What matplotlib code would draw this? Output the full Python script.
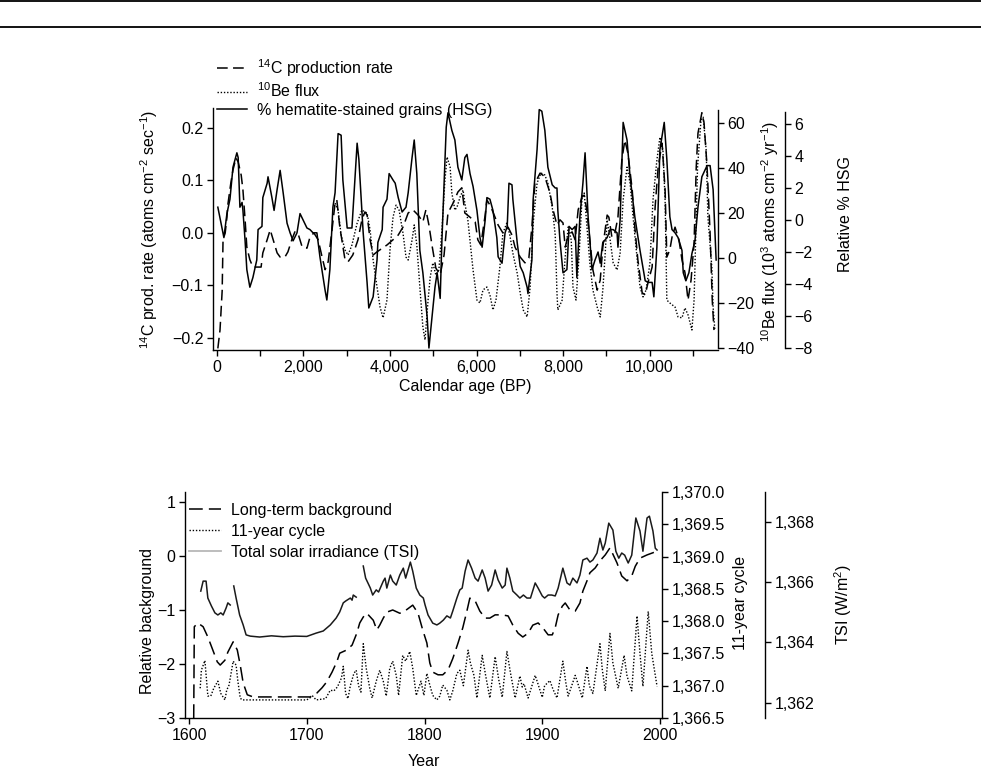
import numpy as np
import matplotlib
matplotlib.use("Agg")
import matplotlib.pyplot as plt
from matplotlib.lines import Line2D
from matplotlib.ticker import FixedLocator, FuncFormatter

# ---------------- Top panel data (Calendar age BP) ----------------
c14_age = [20, 70, 120, 140, 190, 230, 250, 320, 370, 440,
           490, 560, 600, 650, 690, 760, 830, 930, 1020, 1060,
           1160, 1230, 1300, 1390, 1460, 1570, 1640, 1730, 1800, 1870,
           1970, 2080, 2150, 2240, 2340, 2430, 2500, 2570, 2660, 2730,
           2770, 2840, 2960, 3030, 3140, 3260, 3350, 3420, 3470, 3540,
           3610, 3700, 3770, 3930, 4070, 4190, 4300, 4420, 4530, 4650,
           4760, 4830, 4900, 4970, 5060, 5160, 5250, 5340, 5460, 5570,
           5660, 5730, 5850, 5970, 6030, 6100, 6200, 6240, 6310, 6380,
           6500, 6610, 6730, 6820, 6890, 7010, 7120, 7210, 7280, 7350,
           7470, 7580, 7700, 7770, 7860, 7930, 8000, 8050, 8120, 8210,
           8280, 8350, 8440, 8490, 8550, 8620, 8690, 8790, 8860, 8920,
           9020, 9060, 9130, 9200, 9270, 9360, 9430, 9500, 9600, 9660,
           9730, 9830, 9900, 9970, 10060, 10130, 10200, 10290, 10360, 10400,
           10470, 10520, 10590, 10680, 10750, 10820, 10890, 10960, 11030, 11080,
           11120, 11210, 11260, 11330, 11400, 11450, 11490]
c14_val = [-0.22, -0.185, -0.11, -0.013, 0.0, 0.03, 0.053, 0.095, 0.12, 0.143,
           0.135, 0.11, 0.082, 0.025, -0.027, -0.051, -0.065, -0.065, -0.065, -0.038,
           -0.013, 0.006, -0.013, -0.038, -0.046, -0.046, -0.036, -0.013, 0.002, 0.0,
           -0.027, -0.029, -0.008, 0.0, -0.013, -0.046, -0.07, -0.055, 0.006, 0.057,
           0.063, 0.011, -0.051, -0.055, -0.042, -0.013, 0.025, 0.04, 0.034, -0.013,
           -0.042, -0.036, -0.032, -0.023, -0.013, -0.004, 0.011, 0.038, 0.044, 0.034,
           0.021, 0.044, 0.015, -0.023, -0.067, -0.08, -0.042, 0.038, 0.057, 0.078,
           0.086, 0.038, 0.03, 0.021, -0.013, -0.023, 0.034, 0.063, 0.053, 0.04,
           0.015, 0.0, 0.011, -0.004, -0.027, -0.046, -0.057, -0.048, 0.011, 0.095,
           0.114, 0.107, 0.076, 0.044, 0.015, 0.025, 0.019, -0.027, -0.004, 0.002,
           -0.013, 0.044, 0.069, 0.072, 0.044, -0.013, -0.07, -0.109, -0.09, -0.027,
           0.034, 0.03, -0.008, 0.0, 0.03, 0.139, 0.177, 0.152, 0.082, 0.011,
           -0.051, -0.114, -0.118, -0.093, -0.065, 0.05, 0.126, 0.171, 0.082, -0.046,
           -0.032, -0.008, 0.011, -0.013, -0.051, -0.076, -0.128, -0.09, -0.019, 0.126,
           0.19, 0.229, 0.21, 0.126, 0.0, -0.128, -0.185]

be_age = [2730, 2800, 2870, 2960, 3030, 3120, 3240, 3350, 3470, 3540,
          3610, 3700, 3770, 3840, 3930, 4000, 4070, 4140, 4210, 4300,
          4370, 4420, 4510, 4560, 4620, 4690, 4760, 4810, 4880, 4930,
          4990, 5060, 5130, 5200, 5270, 5320, 5390, 5430, 5500, 5550,
          5620, 5690, 5730, 5800, 5920, 6010, 6080, 6150, 6240, 6310,
          6380, 6450, 6540, 6610, 6700, 6770, 6840, 6940, 7010, 7080,
          7170, 7240, 7310, 7400, 7490, 7580, 7650, 7750, 7820, 7860,
          7880, 7980, 8050, 8120, 8190, 8230, 8300, 8370, 8440, 8490,
          8550, 8620, 8690, 8790, 8860, 8920, 8970, 9020, 9090, 9160,
          9250, 9320, 9390, 9480, 9550, 9620, 9710, 9780, 9850, 9920,
          10010, 10080, 10170, 10240, 10310, 10360, 10400, 10470, 10590, 10660,
          10750, 10820, 10890, 10980, 11030, 11070, 11110, 11190, 11240, 11310,
          11350, 11440, 11470, 11510]
be_val = [24.4, 21.3, 10.2, 3.6, 1.3, 5.8, 15.5, 21.3, 20.0, 12.4,
          -0.9, -12.9, -21.8, -26.6, -18.7, 3.6, 18.2, 23.5, 21.3, 11.1,
          0.4, -0.9, 8.0, 14.7, 5.8, -12.9, -30.7, -36.4, -18.7, -8.4,
          -2.2, -7.5, -5.3, 12.4, 34.7, 44.9, 40.4, 28.9, 21.3, 22.7,
          27.1, 30.2, 24.4, 16.9, -5.3, -18.7, -20.0, -14.2, -12.9, -16.4,
          -23.1, -18.7, -4.0, 11.1, 15.5, 10.2, 2.2, -6.7, -15.5, -23.1,
          -26.2, -12.9, 15.5, 33.3, 37.8, 36.9, 33.3, 22.7, 10.2, -15.5,
          -23.1, -18.7, 0.4, 13.8, 8.0, -12.9, -18.7, 0.4, 27.1, 28.9,
          14.7, -2.2, -14.2, -21.8, -26.2, -14.2, 0.4, 16.9, 8.0, -2.2,
          -5.3, 2.2, 25.8, 40.4, 33.3, 18.2, 0.4, -12.9, -17.3, -14.2,
          -2.2, 25.8, 43.5, 53.7, 48.0, 25.8, -18.7, -20.0, -21.8, -26.2,
          -26.6, -22.2, -25.3, -32.0, -18.7, 11.1, 40.4, 61.3, 62.6, 48.0,
          18.2, -4.0, -21.8, -32.0]

hsg_age = [20, 160, 230, 300, 370, 460, 490, 530, 580, 600,
           650, 690, 760, 830, 920, 950, 1040, 1060, 1160, 1180,
           1270, 1320, 1390, 1460, 1530, 1620, 1690, 1760, 1850, 1920,
           1990, 2080, 2150, 2220, 2310, 2380, 2500, 2540, 2610, 2680,
           2730, 2800, 2870, 2910, 3010, 3120, 3240, 3280, 3380, 3470,
           3510, 3610, 3700, 3720, 3820, 3840, 3930, 3980, 4070, 4120,
           4190, 4280, 4370, 4420, 4510, 4560, 4620, 4690, 4760, 4860,
           4900, 4970, 5040, 5090, 5130, 5160, 5200, 5250, 5300, 5340,
           5430, 5500, 5570, 5660, 5730, 5780, 5850, 5920, 6010, 6080,
           6130, 6200, 6240, 6310, 6380, 6470, 6500, 6590, 6660, 6710,
           6750, 6820, 6840, 6940, 7010, 7080, 7170, 7190, 7280, 7310,
           7400, 7450, 7510, 7580, 7650, 7750, 7820, 7860, 7880, 7930,
           8000, 8090, 8140, 8210, 8280, 8320, 8390, 8460, 8510, 8580,
           8670, 8740, 8810, 8860, 8920, 9020, 9090, 9160, 9250, 9270,
           9320, 9390, 9480, 9550, 9660, 9780, 9900, 9970, 10060, 10100,
           10170, 10240, 10340, 10400, 10470, 10520, 10590, 10660, 10750, 10780,
           10840, 10910, 10980, 11050, 11120, 11210, 11330, 11400, 11470, 11540]
hsg_val = [0.8, -1.1, 0.4, 1.3, 3.3, 4.2, 3.9, 0.8, 1.1, 0.6,
           -1.3, -3.1, -4.2, -3.6, -2.5, -0.6, -0.4, 1.4, 2.3, 2.7,
           1.4, 0.6, 1.9, 3.1, 1.7, -0.2, -0.8, -1.3, -0.8, 0.4,
           0.0, -0.5, -0.6, -0.8, -0.8, -2.3, -4.4, -5.0, -3.1, 0.8,
           1.7, 5.4, 5.3, 2.5, -0.5, -0.5, 4.8, 3.8, -0.8, -3.9,
           -5.5, -4.8, -2.5, -1.4, -0.6, 0.8, 1.3, 2.9, 2.5, 2.3,
           1.4, 0.5, 0.8, 1.7, 3.9, 5.0, 2.9, -1.9, -3.3, -6.1,
           -8.0, -6.1, -4.2, -3.3, -4.2, -4.9, -1.3, 2.3, 5.8, 6.7,
           5.6, 5.0, 3.3, 2.5, 3.9, 4.1, 2.9, 2.1, 0.6, -1.1,
           -1.7, 0.0, 1.4, 1.3, 0.6, -1.1, -2.3, -2.7, -0.8, -0.4,
           2.3, 2.2, 1.3, -1.4, -2.9, -3.3, -4.2, -4.6, -2.5, 1.3,
           4.4, 6.9, 6.8, 5.6, 3.3, 2.2, 2.0, 2.0, 0.6, -1.3,
           -3.3, -3.1, -0.4, -0.6, -0.4, -3.6, 0.2, 2.3, 4.2, 0.2,
           -3.1, -2.5, -2.0, -2.7, -1.4, -1.1, -0.6, -0.6, -0.8, -1.7,
           0.0, 6.1, 5.0, 2.7, 0.2, -1.9, -3.8, -3.9, -3.9, -4.8,
           -1.7, 4.4, 6.1, 3.8, 0.2, -0.6, -0.8, -1.1, -1.9, -3.3,
           -3.8, -3.3, -2.1, -1.3, 0.8, 2.7, 3.4, 3.4, 1.9, -2.5]

top_xticks = [0, 2000, 4000, 6000, 8000, 10000]
c14_ticks = [-0.2, -0.1, 0.0, 0.1, 0.2]
be_ticks = [-40, -20, 0, 20, 40, 60]
hsg_ticks = [-8, -6, -4, -2, 0, 2, 4, 6]

# ---------------- Bottom panel data (Year AD) ----------------
bg_year = [1604, 1604.5, 1607.5, 1612, 1616, 1619.5, 1624, 1626.5, 1630.5, 1633,
           1637.5, 1641, 1643.5, 1646, 1649.5, 1654.5, 1670, 1690, 1703, 1708.5,
           1713, 1717, 1721.5, 1725.5, 1728, 1734, 1738.5, 1742.5, 1745, 1748,
           1751, 1756.5, 1759.5, 1762, 1765, 1768, 1773, 1779, 1782, 1790,
           1794.5, 1798.5, 1802, 1804.5, 1807, 1811.5, 1815.5, 1820, 1824, 1828.5,
           1832.5, 1836, 1838.5, 1843, 1847, 1851.5, 1855.5, 1860, 1866, 1871,
           1875, 1879.5, 1883.5, 1888, 1892, 1896.5, 1900.5, 1905, 1908.5, 1911,
           1913.5, 1917, 1919.5, 1923.5, 1928, 1932, 1934.5, 1938, 1940.5, 1945,
           1949, 1953.5, 1957.5, 1963.5, 1967.5, 1972, 1976, 1979, 1983, 1989,
           1994, 1997.5]
bg_val = [-3.0, -1.31, -1.24, -1.31, -1.50, -1.70, -1.96, -2.02, -1.93, -1.78,
          -1.59, -1.74, -2.02, -2.35, -2.57, -2.61, -2.61, -2.61, -2.61, -2.54,
          -2.44, -2.33, -2.15, -1.96, -1.80, -1.74, -1.65, -1.43, -1.24, -1.13,
          -1.06, -1.19, -1.37, -1.28, -1.15, -1.04, -1.00, -1.06, -1.04, -0.91,
          -1.06, -1.37, -1.61, -1.98, -2.15, -2.20, -2.20, -2.11, -1.90, -1.61,
          -1.33, -1.02, -0.78, -0.83, -1.02, -1.15, -1.15, -1.09, -1.09, -1.11,
          -1.28, -1.43, -1.50, -1.43, -1.28, -1.24, -1.33, -1.46, -1.46, -1.33,
          -1.09, -0.93, -0.87, -1.00, -1.02, -0.87, -0.65, -0.46, -0.31, -0.22,
          -0.09, 0.02, 0.15, -0.13, -0.37, -0.46, -0.37, -0.19, -0.04, 0.02,
          0.06, 0.09]

cyc_year = [1609.5, 1610.5, 1613.5, 1616, 1618.5, 1621, 1624.5, 1627, 1630.5, 1632,
            1634, 1637.5, 1640, 1641.5, 1643.5, 1645, 1670, 1700, 1705, 1708,
            1716, 1720, 1723, 1726, 1729.5, 1731, 1733, 1735, 1737, 1740,
            1742, 1744, 1746, 1748, 1750.5, 1753.5, 1755.5, 1759, 1762, 1765,
            1767.5, 1770.5, 1773, 1776, 1778, 1781.5, 1784, 1787.5, 1790, 1793,
            1797, 1799.5, 1802, 1804.5, 1807, 1810.5, 1813, 1815.5, 1819, 1821.5,
            1824, 1827.5, 1830, 1833, 1837, 1839, 1842, 1844.5, 1849, 1852,
            1855.5, 1860, 1863, 1866, 1870, 1873, 1877, 1881, 1883, 1884.5,
            1888, 1894, 1896, 1900, 1902, 1906.5, 1909, 1912.5, 1917.5, 1920,
            1922, 1928, 1930, 1934, 1938, 1940, 1943, 1949, 1951, 1953.5,
            1957.5, 1960, 1964.5, 1969.5, 1972, 1976, 1980.5, 1983, 1985.5, 1990,
            1993, 1997.5]
cyc_val = [1366.96, 1367.24, 1367.39, 1366.84, 1366.84, 1366.96, 1367.07, 1366.88, 1366.78, 1366.93,
           1367.01, 1367.38, 1367.32, 1367.07, 1366.81, 1366.78, 1366.78, 1366.78, 1366.84, 1366.78,
           1366.80, 1366.93, 1366.92, 1366.98, 1367.12, 1367.30, 1366.88, 1366.80, 1367.00, 1367.19,
           1367.24, 1367.00, 1366.90, 1367.65, 1367.27, 1366.96, 1366.81, 1367.07, 1367.24, 1367.07,
           1366.84, 1367.27, 1367.38, 1367.16, 1366.85, 1367.47, 1367.38, 1367.53, 1367.27, 1366.85,
           1367.07, 1366.85, 1367.19, 1367.01, 1366.85, 1366.78, 1366.84, 1367.01, 1366.93, 1366.78,
           1366.92, 1367.19, 1367.24, 1367.00, 1367.55, 1367.35, 1367.16, 1366.81, 1367.47, 1367.15,
           1366.81, 1367.45, 1367.10, 1366.82, 1367.53, 1367.20, 1366.81, 1367.15, 1366.98, 1367.03,
           1366.81, 1367.16, 1367.05, 1366.82, 1367.00, 1367.08, 1366.95, 1366.81, 1367.38, 1367.05,
           1366.84, 1367.16, 1367.05, 1366.81, 1367.30, 1367.00, 1366.88, 1367.65, 1367.25, 1366.92,
           1367.81, 1367.35, 1366.96, 1367.47, 1367.15, 1366.92, 1368.08, 1367.50, 1366.99, 1368.15,
           1367.50, 1366.99]

tsi_year = [1610, 1612, 1614.5, 1616, 1619, 1622, 1624.5, 1627, 1629, 1631.5,
            1633, 1635, 1636.5, 1638, 1640, 1643, 1646, 1648.5, 1652, 1660,
            1670, 1680, 1690, 1700, 1708, 1714, 1720, 1725, 1728, 1731,
            1733, 1737, 1738.5, 1739.5, 1742, 1745, 1748, 1750, 1754, 1756,
            1759, 1761, 1765, 1766.5, 1768, 1771, 1773, 1776, 1779, 1782,
            1784, 1788, 1790, 1793, 1796, 1799, 1800.5, 1803, 1807, 1810.5,
            1813, 1816, 1819, 1822, 1824, 1827.5, 1830, 1832, 1834.5, 1837,
            1840, 1843, 1845.5, 1849, 1851.5, 1854, 1857, 1860, 1862.5, 1866,
            1868.5, 1870, 1872.5, 1875, 1878.5, 1881, 1884, 1887, 1890, 1894,
            1896.5, 1900, 1902, 1905, 1908, 1911, 1913.5, 1917.5, 1921, 1923.5,
            1926, 1929.5, 1932, 1934.5, 1938, 1940.5, 1943, 1946.5, 1949, 1951.5,
            1953.5, 1956.5, 1960, 1962.5, 1965, 1967.5, 1970, 1973, 1976, 1979.5,
            1983, 1985.5, 1989, 1991, 1994, 1996, 1997.5]
tsi_val = [1365.70, 1366.03, 1366.03, 1365.47, 1365.21, 1364.98, 1364.91, 1364.98, 1364.91, 1365.14,
           1365.31, 1365.24, np.nan, 1365.87, 1365.47, 1364.91, 1364.58, 1364.25, 1364.21, 1364.18,
           1364.22, 1364.19, 1364.21, 1364.20, 1364.31, 1364.38, 1364.58, 1364.81, 1365.01, 1365.31,
           1365.37, 1365.47, 1365.40, 1365.57, 1365.50, np.nan, 1366.53, 1366.13, 1365.80, 1365.57,
           1365.74, 1365.67, 1366.03, 1366.13, 1365.80, 1366.23, 1366.03, 1365.90, 1366.23, 1366.46,
           1366.13, 1366.66, 1366.36, 1365.80, 1365.57, 1365.47, 1365.24, 1364.91, 1364.64, 1364.58,
           1364.64, 1364.74, 1364.88, 1364.81, 1365.04, 1365.47, 1365.74, 1365.80, 1366.36, 1366.73,
           1366.46, 1366.13, 1366.03, 1366.40, 1366.13, 1365.70, 1365.90, 1366.40, 1366.07, 1365.80,
           1365.90, 1366.46, 1366.13, 1365.70, 1365.57, 1365.47, 1365.57, 1365.47, 1365.47, 1365.97,
           1365.80, 1365.54, 1365.47, 1365.57, 1365.57, 1365.54, 1365.80, 1366.46, 1365.97, 1365.90,
           1366.13, 1365.97, 1366.23, 1366.73, 1366.79, 1366.66, 1366.73, 1366.96, 1367.45, 1367.06,
           1367.29, 1367.95, 1367.72, 1367.02, 1366.79, 1366.96, 1366.89, 1366.63, 1366.89, 1368.12,
           1367.69, 1367.02, 1368.12, 1368.18, 1367.69, 1367.12, 1367.06]

bot_xticks = [1600, 1700, 1800, 1900, 2000]
bg_ticks = [-3, -2, -1, 0, 1]
cyc_ticks = [1366.5, 1367.0, 1367.5, 1368.0, 1368.5, 1369.0, 1369.5, 1370.0]
tsi_ticks = [1362, 1364, 1366, 1368]

# ---------------- Styling ----------------
FS = 11.5
plt.rcParams['font.family'] = ['Liberation Sans', 'DejaVu Sans']
plt.rcParams['mathtext.fontset'] = 'custom'
plt.rcParams['mathtext.rm'] = 'Liberation Sans'
plt.rcParams['mathtext.it'] = 'Liberation Sans:italic'
plt.rcParams['mathtext.bf'] = 'Liberation Sans:bold'
plt.rcParams['font.size'] = FS
plt.rcParams['axes.linewidth'] = 1.0

W, H = 981, 772
fig = plt.figure(figsize=(W / 100, H / 100), dpi=100)

for yy in (0.8, 27):
    fig.add_artist(Line2D([0, 1], [1 - yy / H] * 2, color='black', lw=1.3,
                          transform=fig.transFigure))


def mfmt(fmt):
    return FuncFormatter(lambda v, p: fmt.format(v).replace('-', '\u2212'))


def style_ticks(ax, axis='both'):
    ax.tick_params(axis=axis, which='both', direction='out', length=4.5, width=1.0,
                   labelsize=FS, color='black', pad=2.5)


def only_spine(ax, keep):
    for s in ['left', 'right', 'top', 'bottom']:
        ax.spines[s].set_visible(s in keep)


# ---------------- Top panel ----------------
axA = fig.add_axes([213 / W, 1 - 350 / H, 505 / W, 242 / H])
l14, = axA.plot(c14_age, c14_val, color='black', lw=1.1, dashes=(7, 3.5))
axA.set_xlim(-92, 11583)
axA.set_ylim(-0.223, 0.238)
only_spine(axA, ['left', 'bottom'])
axA.xaxis.set_major_locator(FixedLocator(top_xticks))
axA.xaxis.set_minor_locator(FixedLocator([1000, 3000, 5000, 7000, 9000, 11000]))
axA.xaxis.set_major_formatter(FuncFormatter(lambda v, p: f"{v:,.0f}"))
axA.yaxis.set_major_locator(FixedLocator(c14_ticks))
axA.yaxis.set_major_formatter(mfmt("{:.1f}"))
style_ticks(axA)
axA.set_xlabel('Calendar age (BP)', fontsize=FS, labelpad=3)
axA.set_ylabel(r'$^{14}$C prod. rate (atoms cm$^{-2}$ sec$^{-1}$)', fontsize=FS)
axA.yaxis.set_label_coords((160 - 213) / 505, 0.5)

axB = axA.twinx()
lbe, = axB.plot(be_age, be_val, color='black', lw=1.0, dashes=(1, 1.3))
axB.set_ylim(-40.9, 66.7)
only_spine(axB, ['right'])
axB.spines['right'].set_bounds(-40, 65.8)
axB.yaxis.set_major_locator(FixedLocator(be_ticks))
axB.yaxis.set_major_formatter(mfmt("{:.0f}"))
style_ticks(axB, 'y')
axB.set_ylabel(r'$^{10}$Be flux (10$^{3}$ atoms cm$^{-2}$ yr$^{-1}$)', fontsize=FS)
axB.yaxis.set_label_coords((759 - 213) / 505, 0.49)

axC = axA.twinx()
lhsg, = axC.plot(hsg_age, hsg_val, color='black', lw=1.1)
axC.set_ylim(-8.125, 7.0)
only_spine(axC, ['right'])
axC.spines['right'].set_position(('axes', (785 - 213) / 505))
axC.spines['right'].set_bounds(-8, 6.75)
axC.yaxis.set_major_locator(FixedLocator(hsg_ticks))
axC.yaxis.set_major_formatter(mfmt("{:.0f}"))
style_ticks(axC, 'y')
axC.set_ylabel('Relative % HSG', fontsize=FS)
axC.yaxis.set_label_coords((838 - 213) / 505, 0.56)

fig.legend([l14, lbe, lhsg],
           [r'$^{14}$C production rate', r'$^{10}$Be flux', '% hematite-stained grains (HSG)'],
           loc='upper left', bbox_to_anchor=(217 / W, 1 - 57 / H), frameon=False,
           borderpad=0, borderaxespad=0, handlelength=1.9, handletextpad=0.6,
           labelspacing=0.17, fontsize=FS)

# ---------------- Bottom panel ----------------
bxA = fig.add_axes([185 / W, 1 - 718 / H, 477 / W, 226 / H])
lbg, = bxA.plot(bg_year, bg_val, color='black', lw=1.1, dashes=(9, 4))
bxA.set_xlim(1596.6, 2001.7)
bxA.set_ylim(-3.0, 1.185)
only_spine(bxA, ['left', 'bottom'])
bxA.xaxis.set_major_locator(FixedLocator(bot_xticks))
bxA.yaxis.set_major_locator(FixedLocator(bg_ticks))
bxA.yaxis.set_major_formatter(mfmt("{:.0f}"))
style_ticks(bxA)
bxA.set_xlabel('Year', fontsize=FS, labelpad=8)
bxA.set_ylabel('Relative background', fontsize=FS)
bxA.yaxis.set_label_coords((155 - 185) / 477, 0.43)

bxB = bxA.twinx()
lcyc, = bxB.plot(cyc_year, cyc_val, color='black', lw=1.0, dashes=(1, 1.3))
bxB.set_ylim(1366.5, 1370.0)
only_spine(bxB, ['right'])
bxB.yaxis.set_major_locator(FixedLocator(cyc_ticks))
bxB.yaxis.set_major_formatter(FuncFormatter(lambda v, p: f"{v:,.1f}"))
style_ticks(bxB, 'y')
bxB.set_ylabel('11-year cycle', fontsize=FS)
bxB.yaxis.set_label_coords((733 - 185) / 477, 0.51)

bxC = bxA.twinx()
ltsi, = bxC.plot(tsi_year, tsi_val, color='#1a1a1a', lw=1.1)
bxC.set_ylim(1361.5, 1368.98)
only_spine(bxC, ['right'])
bxC.spines['right'].set_position(('axes', (765 - 185) / 477))
bxC.yaxis.set_major_locator(FixedLocator(tsi_ticks))
bxC.yaxis.set_major_formatter(FuncFormatter(lambda v, p: f"{v:,.0f}"))
style_ticks(bxC, 'y')
bxC.set_ylabel(r'TSI (W/m$^{2}$)', fontsize=FS)
bxC.yaxis.set_label_coords((832 - 185) / 477, 0.5)

tsi_handle = Line2D([], [], color='#b8b8b8', lw=1.3)
fig.legend([lbg, lcyc, tsi_handle],
           ['Long-term background', '11-year cycle', 'Total solar irradiance (TSI)'],
           loc='upper left', bbox_to_anchor=(189 / W, 1 - 503 / H), frameon=False,
           borderpad=0, borderaxespad=0, handlelength=2.0, handletextpad=0.6,
           labelspacing=0.36, fontsize=FS)

fig.savefig('out.png', dpi=100)
